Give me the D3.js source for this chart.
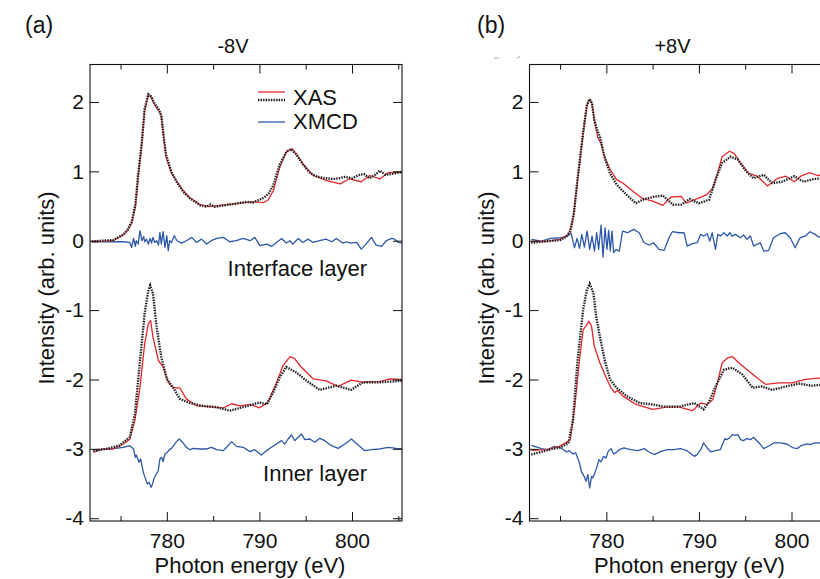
<!DOCTYPE html>
<html>
<head>
<meta charset="utf-8">
<script src="https://cdn.jsdelivr.net/npm/d3@7"></script>
<style>
  body { margin: 0; background: #fff; }
  svg text { font-family: "Liberation Sans", Arial, Helvetica, sans-serif; fill: #111; }
</style>
</head>
<body>
<div id="chart"></div>
<script>
// ---- data: [photon energy (eV), intensity] ----
var xMajorTicks = [780, 790, 800];
var xMinorTicks = [775, 785, 795, 805];
var yTicks = [-4, -3, -2, -1, 0, 1, 2];

// panel (a) -8V, interface layer
var aIfXas = [[771.9,-0.02],[773.0,-0.01],[774.2,0.0],[775.3,0.08],[775.8,0.15],[776.2,0.25],[776.6,0.49],[776.9,0.92],[777.3,1.40],[777.6,1.88],[778.0,2.1],[778.3,2.07],[778.7,1.95],[779.1,1.88],[779.4,1.81],[779.9,1.21],[780.5,0.97],[781.1,0.85],[781.8,0.72],[782.5,0.62],[783.6,0.52],[784.6,0.49],[785.7,0.51],[787.2,0.53],[789.3,0.56],[790.4,0.55],[790.9,0.58],[791.5,0.72],[792.2,1.06],[792.9,1.28],[793.5,1.33],[794.0,1.25],[794.7,1.11],[795.8,0.94],[797.2,0.87],[798.7,0.82],[799.7,0.89],[801.0,0.85],[801.9,0.94],[803.0,0.89],[803.9,0.98],[805.4,0.99]];
var aIfRef = [[771.9,-0.01],[773.0,0.0],[774.2,0.01],[775.3,0.09],[775.8,0.17],[776.2,0.27],[776.6,0.52],[776.9,0.95],[777.3,1.42],[777.6,1.9],[778.0,2.11],[778.3,2.08],[778.7,1.97],[779.1,1.9],[779.4,1.8],[779.7,1.45],[779.9,1.25],[780.5,0.99],[781.1,0.84],[781.8,0.7],[782.5,0.61],[783.6,0.51],[784.3,0.49],[784.7,0.52],[785.2,0.49],[785.7,0.5],[787.2,0.53],[788.6,0.56],[789.3,0.55],[789.8,0.58],[790.5,0.62],[791.0,0.68],[791.5,0.80],[792.2,1.1],[792.9,1.28],[793.4,1.32],[794.0,1.24],[794.7,1.1],[795.5,0.97],[796.3,0.92],[797.2,0.9],[798.0,0.89],[798.6,0.9],[799.2,0.92],[800.0,0.9],[800.8,0.95],[801.3,0.96],[801.9,0.9],[802.5,0.95],[803.0,1.01],[803.6,0.95],[804.2,0.96],[805.4,0.99]];
var aIfMcd = [[772.06,-0.015],[773.86,-0.015],[775.3,-0.015],[776.0,-0.025],[776.2,-0.097],[776.4,0.033],[776.6,-0.082],[776.7,0.0],[776.9,-0.048],[777.1,0.144],[777.3,0.0],[777.5,0.062],[777.6,-0.015],[777.8,0.023],[778.0,-0.048],[778.2,0.033],[778.35,-0.034],[778.5,0.048],[778.7,-0.025],[778.9,0.0],[779.1,-0.063],[779.25,0.120],[779.4,-0.048],[779.6,0.130],[779.8,-0.097],[780.0,0.072],[780.15,-0.145],[780.3,0.0],[780.5,-0.025],[780.8,0.072],[781.1,0.0],[781.6,-0.034],[782.1,0.0],[782.7,0.048],[783.2,-0.025],[783.75,0.023],[784.3,-0.048],[784.8,0.0],[785.4,0.033],[786.1,0.048],[786.8,-0.015],[787.5,0.0],[788.25,0.033],[789.0,0.0],[789.5,0.048],[790.05,-0.072],[790.8,-0.048],[791.3,-0.082],[791.85,-0.025],[792.4,0.033],[792.9,-0.034],[793.3,0.0],[793.6,-0.048],[794.2,0.033],[794.7,-0.025],[795.26,0.023],[795.8,-0.025],[796.5,0.0],[797.2,0.023],[797.8,-0.015],[798.3,0.033],[799.0,-0.034],[799.4,-0.015],[799.9,-0.034],[800.5,-0.025],[801.0,-0.121],[801.6,-0.034],[802.1,0.048],[802.6,-0.063],[803.2,-0.082],[803.7,0.0],[804.3,0.033],[804.6,0.023],[805.0,-0.025],[805.4,-0.034]];

// panel (a) -8V, inner layer
var aInXas = [[772.06,-3.05],[773.1,-3.0],[774.2,-3.0],[775.3,-2.93],[776.0,-2.86],[776.55,-2.59],[777.1,-2.11],[777.6,-1.49],[778.0,-1.2],[778.25,-1.15],[778.5,-1.39],[779.1,-1.73],[779.6,-1.82],[780.15,-2.04],[780.5,-2.1],[780.9,-2.12],[781.4,-2.12],[782.1,-2.28],[783.2,-2.38],[785.0,-2.4],[786.1,-2.41],[787.0,-2.35],[787.9,-2.38],[789.0,-2.36],[790.0,-2.41],[790.9,-2.33],[791.8,-2.06],[792.55,-1.8],[793.3,-1.67],[793.8,-1.7],[794.5,-1.82],[795.8,-1.99],[797.2,-2.02],[798.5,-2.1],[799.9,-2.01],[801.2,-2.04],[803.0,-2.03],[804.1,-1.99],[805.4,-2.0]];
var aInRef = [[772.06,-3.03],[773.5,-3.0],[774.9,-2.95],[776.0,-2.83],[776.55,-2.5],[777.1,-1.73],[777.6,-1.05],[778.0,-0.72],[778.2,-0.645],[778.5,-0.76],[778.9,-1.25],[779.4,-1.68],[780.0,-1.99],[780.7,-2.12],[781.4,-2.28],[782.5,-2.34],[783.9,-2.38],[785.4,-2.4],[786.8,-2.45],[788.2,-2.4],[789.3,-2.36],[790.0,-2.33],[790.8,-2.36],[791.5,-2.18],[792.2,-1.97],[792.9,-1.82],[794.0,-1.9],[795.1,-2.02],[796.5,-2.15],[798.3,-2.09],[799.9,-2.15],[801.2,-2.04],[803.0,-2.04],[805.4,-2.02]];
var aInMcd = [[772.06,-3.012],[773.86,-3.002],[775.3,-2.978],[776.0,-2.954],[776.4,-3.002],[776.6,-3.122],[776.7,-3.089],[777.0,-3.194],[777.17,-3.146],[777.46,-3.339],[777.64,-3.411],[777.9,-3.507],[778.1,-3.483],[778.28,-3.555],[778.46,-3.507],[778.6,-3.435],[778.8,-3.377],[779.07,-3.315],[779.25,-3.146],[779.43,-3.122],[779.6,-3.185],[779.8,-3.074],[780.05,-3.05],[780.26,-3.012],[780.5,-2.993],[780.76,-2.945],[781.05,-2.896],[781.34,-2.858],[781.77,-2.916],[782.1,-2.978],[782.5,-3.012],[782.85,-2.993],[783.57,-3.002],[784.3,-3.002],[784.83,-2.978],[785.37,-3.012],[786.1,-3.026],[786.45,-2.978],[787.0,-2.896],[787.53,-2.964],[788.25,-2.978],[788.97,-3.04],[789.5,-3.012],[790.2,-3.089],[790.76,-3.026],[791.3,-2.978],[791.84,-2.93],[792.38,-2.882],[792.74,-2.93],[793.1,-2.858],[793.46,-2.8],[793.82,-2.882],[794.18,-2.834],[794.54,-2.785],[794.9,-2.868],[795.44,-2.858],[795.98,-2.906],[796.52,-2.848],[797.06,-2.882],[797.78,-2.954],[798.5,-2.993],[799.22,-2.93],[799.94,-2.858],[800.66,-2.945],[801.38,-3.026],[802.1,-3.012],[803.0,-3.002],[803.9,-2.978],[804.8,-2.993],[805.4,-3.0]];

// panel (b) +8V, interface layer
var bIfXas = [[771.9,-0.01],[773.5,-0.01],[775.0,0.02],[775.9,0.09],[776.4,0.30],[776.9,0.88],[777.5,1.55],[777.9,1.94],[778.1,2.03],[778.4,2.01],[778.7,1.74],[779.1,1.48],[779.4,1.41],[779.8,1.21],[780.4,1.03],[781.1,0.88],[781.8,0.83],[782.9,0.71],[783.9,0.61],[785.0,0.57],[786.1,0.51],[787.0,0.63],[788.1,0.64],[788.6,0.54],[789.7,0.60],[790.8,0.66],[791.5,0.76],[792.0,0.97],[792.5,1.21],[793.3,1.29],[793.8,1.26],[794.5,1.12],[795.4,0.97],[796.3,0.93],[797.4,0.79],[798.5,0.90],[799.4,0.93],[800.3,0.85],[801.0,0.93],[801.9,0.98],[802.8,0.94],[803.6,0.95],[804.5,0.92],[805.4,0.94]];
var bIfRef = [[771.9,-0.03],[773.5,-0.01],[775.0,0.01],[775.6,0.05],[776.1,0.13],[776.5,0.4],[776.9,0.9],[777.5,1.57],[777.9,1.96],[778.2,2.04],[778.45,1.98],[778.7,1.74],[779.0,1.6],[779.3,1.50],[779.8,1.21],[780.4,0.97],[781.1,0.81],[782.2,0.66],[783.2,0.54],[783.9,0.59],[785.0,0.63],[786.1,0.65],[787.2,0.52],[788.1,0.52],[789.0,0.60],[790.0,0.54],[791.1,0.59],[791.8,0.88],[792.5,1.12],[793.4,1.21],[794.2,1.17],[795.1,1.0],[795.9,0.90],[797.0,0.95],[797.9,0.83],[799.0,0.85],[800.3,0.93],[801.3,0.85],[802.4,0.89],[803.5,0.90],[804.5,0.88],[805.4,0.9]];
var bIfMcd = [[771.9,0.019],[773.0,-0.005],[774.0,0.034],[775.1,0.043],[775.8,0.067],[776.2,0.101],[776.56,-0.101],[776.84,0.034],[777.1,-0.11],[777.35,0.091],[777.63,-0.091],[777.92,0.139],[778.2,-0.125],[778.46,0.067],[778.71,-0.149],[778.96,0.115],[779.17,-0.125],[779.43,0.226],[779.64,-0.235],[779.86,0.187],[780.07,-0.125],[780.25,0.149],[780.43,-0.149],[780.61,0.139],[780.79,-0.173],[781.04,-0.125],[781.4,-0.149],[781.75,0.139],[782.29,0.115],[782.94,0.163],[783.55,0.115],[784.08,-0.029],[784.62,-0.062],[785.09,-0.029],[785.7,-0.125],[786.24,-0.139],[786.77,0.043],[787.13,0.13],[787.85,0.115],[788.39,0.115],[788.74,-0.077],[789.28,-0.043],[789.82,-0.029],[790.18,0.091],[790.54,0.067],[790.9,0.101],[791.18,-0.005],[791.43,0.115],[791.79,-0.125],[792.04,0.091],[792.33,0.067],[792.69,0.115],[793.05,0.067],[793.33,0.115],[793.58,0.067],[793.94,0.091],[794.48,0.043],[794.84,0.082],[795.2,0.019],[795.55,0.067],[795.91,-0.077],[796.27,-0.053],[796.63,-0.029],[796.99,-0.149],[797.53,-0.139],[798.06,0.043],[798.78,0.101],[799.32,0.115],[799.86,0.043],[800.39,-0.101],[800.93,0.043],[801.47,0.067],[802.01,0.13],[802.54,0.091],[802.94,0.053],[803.6,0.07],[804.5,0.03],[805.4,0.05]];

// panel (b) +8V, inner layer
var bInXas = [[771.9,-3.02],[773.5,-3.01],[775.0,-2.96],[776.1,-2.87],[776.6,-2.39],[777.1,-1.71],[777.5,-1.28],[777.9,-1.21],[778.1,-1.16],[778.4,-1.23],[778.7,-1.52],[779.3,-1.76],[780.0,-1.98],[780.5,-2.12],[780.9,-2.19],[781.2,-2.16],[781.8,-2.24],[783.2,-2.36],[785.0,-2.43],[786.5,-2.40],[787.9,-2.40],[789.3,-2.45],[790.2,-2.34],[790.9,-2.36],[791.5,-2.29],[792.0,-2.05],[792.5,-1.76],[793.1,-1.69],[793.6,-1.67],[794.3,-1.76],[795.4,-1.88],[796.5,-2.0],[797.2,-2.07],[798.6,-2.05],[800.1,-2.05],[801.5,-2.0],[802.9,-1.98],[805.4,-1.97]];
var bInRef = [[771.9,-3.08],[772.8,-3.05],[773.9,-3.01],[775.0,-2.98],[775.9,-2.92],[776.4,-2.58],[776.9,-1.71],[777.5,-0.99],[777.9,-0.71],[778.2,-0.62],[778.6,-0.75],[778.9,-1.09],[779.3,-1.38],[779.8,-1.71],[780.4,-2.0],[781.1,-2.12],[782.2,-2.24],[783.6,-2.34],[785.0,-2.36],[786.1,-2.39],[787.9,-2.39],[789.5,-2.34],[790.5,-2.43],[791.1,-2.32],[791.8,-2.10],[792.7,-1.86],[793.6,-1.83],[794.7,-1.93],[795.8,-2.12],[796.8,-2.10],[797.9,-2.15],[799.4,-2.10],[800.8,-2.06],[802.2,-2.09],[802.9,-2.08],[805.4,-2.08]];
var bInMcd = [[771.9,-2.949],[773.0,-2.997],[773.7,-3.012],[774.4,-2.963],[775.1,-2.987],[775.7,-3.045],[776.0,-3.026],[776.4,-3.074],[776.7,-3.059],[777.1,-3.204],[777.3,-3.324],[777.6,-3.396],[777.8,-3.468],[778.0,-3.372],[778.2,-3.564],[778.4,-3.396],[778.5,-3.42],[778.7,-3.372],[779.0,-3.252],[779.2,-3.156],[779.4,-3.189],[779.7,-3.108],[779.96,-3.132],[780.2,-3.036],[780.5,-2.997],[780.8,-3.074],[781.0,-3.059],[781.4,-3.012],[781.9,-2.987],[782.6,-3.012],[783.4,-3.026],[784.1,-2.997],[784.6,-3.045],[785.2,-3.084],[785.9,-3.036],[786.6,-3.012],[787.3,-3.012],[788.0,-2.997],[788.7,-3.026],[789.5,-3.108],[789.8,-3.084],[790.2,-3.012],[790.5,-2.915],[790.9,-2.987],[791.3,-3.045],[791.8,-3.026],[792.3,-3.012],[792.8,-2.853],[793.0,-2.867],[793.3,-2.843],[793.6,-2.795],[793.9,-2.805],[794.2,-2.795],[794.5,-2.867],[794.8,-2.882],[795.2,-2.853],[795.6,-2.867],[795.9,-2.834],[796.5,-2.915],[797.0,-2.997],[797.5,-2.963],[798.1,-2.915],[798.8,-2.915],[799.5,-2.93],[800.2,-2.987],[800.6,-2.997],[801.1,-2.949],[801.7,-2.93],[802.0,-2.939],[802.5,-2.915],[802.9,-2.915],[804.0,-2.92],[805.4,-2.92]];

// ---- layout ----
var width = 820, height = 579;
var plotW = 312, plotTop = 64.5, plotBottom = 521;

var svg = d3.select("#chart").append("svg")
    .attr("width", width)
    .attr("height", height);

var panels = [
  {id: "a", left: 90, tag: "(a)", tagX: 25, title: "-8V", legend: true,
   xas: [aIfXas, aInXas], ref: [aIfRef, aInRef], mcd: [aIfMcd, aInMcd]},
  {id: "b", left: 529.5, tag: "(b)", tagX: 477, title: "+8V", legend: false,
   xas: [bIfXas, bInXas], ref: [bIfRef, bInRef], mcd: [bIfMcd, bInMcd]}
];

var red = "#e3262c", blue = "#2d58a9";

// dotted black reference line: faint grey body with black dots on top
function dotted(sel) {
  sel.append("path").attr("class", "dot-under")
    .attr("fill", "none").attr("stroke", "#a0a0a0").attr("stroke-opacity", 0.35)
    .attr("stroke-width", 2.4);
  sel.append("path").attr("class", "dot-top")
    .attr("fill", "none").attr("stroke", "#111").attr("stroke-width", 2.3)
    .attr("stroke-dasharray", "1.2 1.4");
}

panels.forEach(function(p) {
  var x = d3.scaleLinear().domain([771.7, 805.4]).range([p.left, p.left + plotW]);
  var y = d3.scaleLinear().domain([-4.04, 2.54]).range([plotBottom, plotTop]);

  var line = d3.line()
      .x(function(d) { return x(d[0]); })
      .y(function(d) { return y(d[1]); });

  svg.append("clipPath").attr("id", "clip-" + p.id)
    .append("rect")
      .attr("x", p.left).attr("y", plotTop)
      .attr("width", plotW).attr("height", plotBottom - plotTop);

  var g = svg.append("g").attr("clip-path", "url(#clip-" + p.id + ")");

  p.mcd.forEach(function(s) {
    g.append("path").attr("d", line(s))
      .attr("fill", "none").attr("stroke", blue).attr("stroke-width", 1.3)
      .attr("stroke-linejoin", "round");
  });
  p.xas.forEach(function(s) {
    g.append("path").attr("d", line(s))
      .attr("fill", "none").attr("stroke", red).attr("stroke-width", 1.3)
      .attr("stroke-linejoin", "round");
  });
  p.ref.forEach(function(s) {
    var d = g.append("g");
    dotted(d);
    d.selectAll("path").attr("d", line(s));
  });

  // axes: inward ticks on all four sides
  function ticks(axis, tx, ty, labels) {
    var a = svg.append("g").attr("transform", "translate(" + tx + "," + ty + ")").call(axis);
    a.select(".domain").remove();
    a.selectAll(".tick line").attr("stroke", "#111").attr("stroke-width", 1);
    if (!labels) a.selectAll(".tick text").remove();
    else a.selectAll(".tick text").attr("fill", "#111").style("font-size", "21px")
        .style("font-family", "'Liberation Sans', Arial, sans-serif");
    return a;
  }
  var fmt = function(d) { return String(d); };
  ticks(d3.axisBottom(x).tickValues(xMajorTicks).tickSize(-9).tickPadding(12).tickFormat(fmt), 0, plotBottom, true);
  ticks(d3.axisBottom(x).tickValues(xMinorTicks).tickSize(-5), 0, plotBottom, false);
  ticks(d3.axisTop(x).tickValues(xMajorTicks).tickSize(-9), 0, plotTop, false);
  ticks(d3.axisTop(x).tickValues(xMinorTicks).tickSize(-5), 0, plotTop, false);
  ticks(d3.axisLeft(y).tickValues(yTicks).tickSize(-9).tickPadding(6).tickFormat(fmt), p.left, 0, true);
  ticks(d3.axisRight(y).tickValues(yTicks).tickSize(-9), p.left + plotW, 0, false);

  svg.append("rect")
    .attr("x", p.left).attr("y", plotTop)
    .attr("width", plotW).attr("height", plotBottom - plotTop)
    .attr("fill", "none").attr("stroke", "#111").attr("stroke-width", 1.1);

  // texts
  svg.append("text").text(p.tag)
    .attr("x", p.tagX).attr("y", 33).style("font-size", "23px");
  svg.append("text").text(p.title)
    .attr("x", p.left + 143).attr("y", 53)
    .attr("text-anchor", "middle").style("font-size", "20px");
  svg.append("text").text("Photon energy (eV)")
    .attr("x", p.left + 160).attr("y", 573)
    .attr("text-anchor", "middle").style("font-size", "22px");
  svg.append("text").text("Intensity (arb. units)")
    .attr("text-anchor", "middle").style("font-size", "22px")
    .attr("transform", "translate(" + (p.left - 36) + ",288) rotate(-90)");

  if (p.legend) {
    svg.append("text").text("Interface layer")
      .attr("x", p.left + 277).attr("y", 276)
      .attr("text-anchor", "end").style("font-size", "22px");
    svg.append("text").text("Inner layer")
      .attr("x", p.left + 277).attr("y", 481)
      .attr("text-anchor", "end").style("font-size", "22px");

    var lx0 = p.left + 168, lx1 = p.left + 195;
    svg.append("line").attr("x1", lx0).attr("x2", lx1).attr("y1", 92).attr("y2", 92)
      .attr("stroke", red).attr("stroke-width", 1.3);
    var lg = svg.append("g");
    dotted(lg);
    lg.selectAll("path").attr("d", "M" + lx0 + ",100H" + lx1);
    svg.append("line").attr("x1", lx0).attr("x2", lx1).attr("y1", 122).attr("y2", 122)
      .attr("stroke", blue).attr("stroke-width", 1.3);
    svg.append("text").text("XAS")
      .attr("x", p.left + 203).attr("y", 105).style("font-size", "22px");
    svg.append("text").text("XMCD")
      .attr("x", p.left + 203).attr("y", 129).style("font-size", "22px");
  } else {
    // faint specks above panel (b)'s frame in the original scan
    svg.append("line").attr("x1", 494).attr("x2", 499).attr("y1", 58).attr("y2", 58)
      .attr("stroke", "#aaa").attr("stroke-width", 1);
    svg.append("line").attr("x1", 517).attr("x2", 520).attr("y1", 58).attr("y2", 56.5)
      .attr("stroke", "#aaa").attr("stroke-width", 1);
  }
});
</script>
</body>
</html>
